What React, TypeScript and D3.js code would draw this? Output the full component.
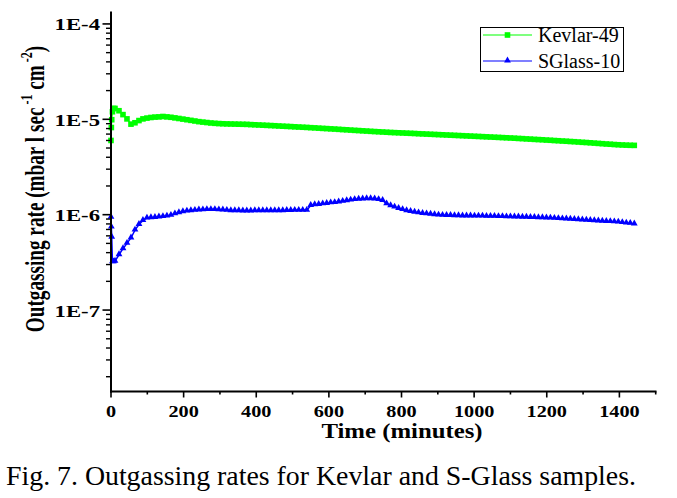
import React from "react";
import * as d3 from "d3";

// ---- data (rates in units of 1e-6 mbar l sec^-1 cm^-2) ----
const UNIT = 1e-6;

const grid = [
  11, 22, 33, 44, 55, 66, 77, 88, 99, 110,
  121, 132, 143, 154, 165, 176, 187, 198, 209, 220,
  231, 242, 253, 264, 275, 286, 297, 308, 319, 330,
  341, 352, 363, 374, 385, 396, 407, 418, 429, 440,
  451, 462, 473, 484, 495, 506, 517, 528, 539, 550,
  561, 572, 583, 594, 605, 616, 627, 638, 649, 660,
  671, 682, 693, 704, 715, 726, 737, 748, 759, 770,
  781, 792, 803, 814, 825, 836, 847, 858, 869, 880,
  891, 902, 913, 924, 935, 946, 957, 968, 979, 990,
  1001, 1012, 1023, 1034, 1045, 1056, 1067, 1078, 1089, 1100,
  1111, 1122, 1133, 1144, 1155, 1166, 1177, 1188, 1199, 1210,
  1221, 1232, 1243, 1254, 1265, 1276, 1287, 1298, 1309, 1320,
  1331, 1342, 1353, 1364, 1375, 1386, 1397, 1408, 1419, 1430,
  1441,
];

const kevlarTime = [0, 1, 2, 4, 7, ...grid];
const kevlarRate = [
  6.0, 8.2, 9.9, 12.0, 13.0,
  13.0, 12.3, 11.2, 10.1, 8.9, 9.2, 9.7, 10.1, 10.3, 10.45,
  10.55, 10.6, 10.7, 10.6, 10.5, 10.35, 10.2, 10.05, 9.9, 9.75,
  9.6, 9.45, 9.35, 9.25, 9.15, 9.08, 9.02, 8.98, 8.95, 8.93,
  8.91, 8.89, 8.87, 8.85, 8.8, 8.76, 8.72, 8.68, 8.64, 8.6,
  8.56, 8.51, 8.47, 8.43, 8.39, 8.34, 8.3, 8.26, 8.22, 8.17,
  8.13, 8.08, 8.03, 7.99, 7.94, 7.9, 7.85, 7.8, 7.76, 7.71,
  7.66, 7.62, 7.57, 7.53, 7.48, 7.44, 7.4, 7.36, 7.32, 7.28,
  7.25, 7.22, 7.19, 7.16, 7.13, 7.1, 7.06, 7.03, 7.0, 6.97,
  6.94, 6.91, 6.88, 6.85, 6.82, 6.79, 6.76, 6.73, 6.7, 6.67,
  6.64, 6.61, 6.58, 6.55, 6.52, 6.49, 6.46, 6.43, 6.4, 6.37,
  6.34, 6.3, 6.27, 6.23, 6.2, 6.16, 6.13, 6.1, 6.06, 6.03,
  5.99, 5.96, 5.92, 5.89, 5.85, 5.82, 5.78, 5.74, 5.71, 5.67,
  5.63, 5.59, 5.55, 5.51, 5.48, 5.44, 5.41, 5.38, 5.36, 5.34,
  5.33,
];

const sglassTime = [0, 1, 2, 4, 7, ...grid];
const sglassRate = [
  0.94, 0.74, 0.58, 0.32, 0.32,
  0.325, 0.38, 0.44, 0.5, 0.57, 0.69, 0.79, 0.87, 0.92, 0.93,
  0.935, 0.945, 0.955, 0.965, 0.985, 1.02, 1.05, 1.075, 1.09, 1.1,
  1.11, 1.12, 1.125, 1.13, 1.13, 1.13, 1.125, 1.12, 1.11, 1.1,
  1.1, 1.1, 1.095, 1.095, 1.095, 1.1, 1.1, 1.1, 1.1, 1.1,
  1.1, 1.1, 1.1, 1.105, 1.105, 1.11, 1.11, 1.11, 1.11, 1.25,
  1.27, 1.28, 1.3, 1.31, 1.33, 1.34, 1.36, 1.38, 1.4, 1.42,
  1.44, 1.45, 1.46, 1.47, 1.47, 1.46, 1.44, 1.41, 1.3, 1.24,
  1.2, 1.16, 1.13, 1.1, 1.08, 1.06, 1.045, 1.03, 1.02, 1.01,
  1.0, 0.99, 0.985, 0.98, 0.98, 0.975, 0.975, 0.97, 0.97, 0.97,
  0.965, 0.965, 0.965, 0.96, 0.96, 0.96, 0.955, 0.955, 0.95, 0.95,
  0.945, 0.945, 0.94, 0.94, 0.935, 0.935, 0.93, 0.93, 0.925, 0.92,
  0.915, 0.91, 0.905, 0.9, 0.895, 0.89, 0.885, 0.88, 0.875, 0.87,
  0.865, 0.86, 0.855, 0.85, 0.845, 0.84, 0.835, 0.825, 0.815, 0.81,
  0.8,
];

const xMajorTicks = [0, 200, 400, 600, 800, 1000, 1200, 1400];
const xMinorTicks = [100, 300, 500, 700, 900, 1100, 1300, 1500];
const yMajorTicks = [1e-4, 1e-5, 1e-6, 1e-7];
const yMajorLabels = ["1E-4", "1E-5", "1E-6", "1E-7"];
const seriesNames = ["Kevlar-49", "SGlass-10"];
const seriesColors = ["#00ff00", "#0000ff"];
const caption = "Fig. 7. Outgassing rates for Kevlar and S-Glass samples.";

const W = 677;
const H = 498;
const FONT = "'Liberation Serif', 'Times New Roman', serif";

export default function App() {
  const x = d3.scaleLinear().domain([0, 1500]).range([111, 655.7]);
  const y = d3.scaleLog().domain([1.4e-8, 1.35e-4]).range([391.5, 11.5]);

  const yMinorTicks: number[] = [];
  for (let e = -8; e <= -5; e++) {
    for (let m = 2; m <= 9; m++) {
      const v = m * Math.pow(10, e);
      if (v >= 1.4e-8 && v <= 1.35e-4) yMinorTicks.push(v);
    }
  }

  const line = d3
    .line<[number, number]>()
    .x((d) => x(d[0]))
    .y((d) => y(d[1]));

  const kev: [number, number][] = kevlarTime.map((t, i) => [t, kevlarRate[i] * UNIT]);
  const sgl: [number, number][] = sglassTime.map((t, i) => [t, sglassRate[i] * UNIT]);

  const tri = d3.symbol().type(d3.symbolTriangle).size(20)() as string;
  const sq = 5.6;

  return (
    <svg
      width={W}
      height={H}
      style={{ position: "absolute", left: 0, top: 0, background: "#fff" }}
      fontFamily={FONT}
    >
      <rect x={0} y={0} width={W} height={H} fill="#fff" />

      {/* series lines */}
      <path d={line(kev) || ""} fill="none" stroke={seriesColors[0]} strokeWidth={1.2} />
      <path d={line(sgl) || ""} fill="none" stroke={seriesColors[1]} strokeWidth={1.5} />

      {/* markers */}
      {kev.map((d, i) => (
        <rect
          key={"k" + i}
          x={x(d[0]) - sq / 2}
          y={y(d[1]) - sq / 2}
          width={sq}
          height={sq}
          fill={seriesColors[0]}
        />
      ))}
      {sgl.map((d, i) => (
        <path
          key={"s" + i}
          d={tri}
          transform={`translate(${x(d[0])},${y(d[1]) - 0.5})`}
          fill={seriesColors[1]}
        />
      ))}

      {/* axes */}
      <line x1={110} x2={656.5} y1={391.5} y2={391.5} stroke="#000" strokeWidth={2} />
      <line x1={111} x2={111} y1={11.5} y2={392.5} stroke="#000" strokeWidth={2} />

      {xMajorTicks.map((t) => (
        <line key={"xM" + t} x1={x(t)} x2={x(t)} y1={391.5} y2={397.5} stroke="#000" strokeWidth={1.6} />
      ))}
      {xMinorTicks.map((t) => (
        <line key={"xm" + t} x1={x(t)} x2={x(t)} y1={391.5} y2={394.5} stroke="#000" strokeWidth={1.6} />
      ))}
      {yMajorTicks.map((t) => (
        <line key={"yM" + t} x1={102.5} x2={111} y1={y(t)} y2={y(t)} stroke="#000" strokeWidth={1.6} />
      ))}
      {yMinorTicks.map((t) => (
        <line key={"ym" + t} x1={106} x2={111} y1={y(t)} y2={y(t)} stroke="#000" strokeWidth={1.4} />
      ))}

      {/* tick labels */}
      {xMajorTicks.map((t) => (
        <g key={"xl" + t} transform={`translate(${x(t)},417) scale(1.19,1)`}>
          <text textAnchor="middle" fontSize={17} fontWeight="bold" fill="#000">
            {t}
          </text>
        </g>
      ))}
      {yMajorTicks.map((t, i) => (
        <g key={"yl" + t} transform={`translate(100,${y(t) + 6.5}) scale(1.42,1)`}>
          <text textAnchor="end" fontSize={16} fontWeight="bold" fill="#000">
            {yMajorLabels[i]}
          </text>
        </g>
      ))}

      {/* axis titles */}
      <g transform="translate(402,438) scale(1.18,1)">
        <text textAnchor="middle" fontSize={21} fontWeight="bold" fill="#000">
          Time (minutes)
        </text>
      </g>
      <g transform="translate(44,189) rotate(-90) scale(1,1.45)">
        <text textAnchor="middle" fontSize={19.2} fontWeight="bold" fill="#000">
          Outgassing rate (mbar l sec
          <tspan fontSize={12} dy={-8}> -1</tspan>
          <tspan dy={8}>  cm</tspan>
          <tspan fontSize={12} dy={-8}> -2</tspan>
          <tspan dy={8}>)</tspan>
        </text>
      </g>

      {/* legend */}
      <rect x={480.5} y={27.5} width={143} height={44} fill="#fff" stroke="#000" strokeWidth={1} />
      {seriesNames.map((name, i) => {
        const ly = 35 + i * 26;
        return (
          <g key={name}>
            <line x1={483} x2={532} y1={ly} y2={ly} stroke={seriesColors[i]} strokeWidth={1.2} />
            {i === 0 ? (
              <rect x={507.5 - 2.8} y={ly - 2.8} width={5.6} height={5.6} fill={seriesColors[i]} />
            ) : (
              <path d={tri} transform={`translate(507.5,${ly - 0.5})`} fill={seriesColors[i]} />
            )}
            <text x={538} y={ly + 6.5} fontSize={20} fill="#000">
              {name}
            </text>
          </g>
        );
      })}

      {/* caption */}
      <text
        x={6}
        y={485}
        fontSize={28}
        fill="#000"
        textLength={630}
        lengthAdjust="spacingAndGlyphs"
      >
        {caption}
      </text>
    </svg>
  );
}
